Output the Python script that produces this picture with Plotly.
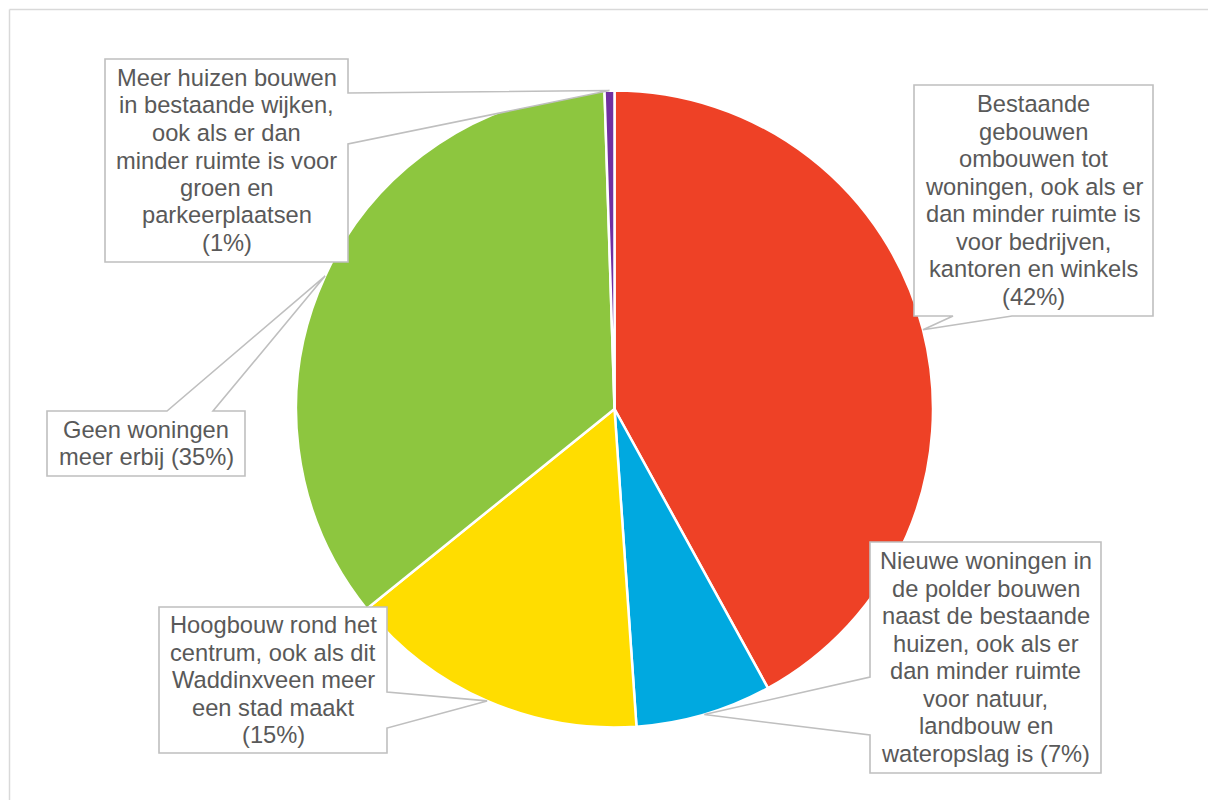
import math
import plotly.graph_objects as go

# ---------------- data ----------------
categories = [
    "Bestaande gebouwen ombouwen tot woningen, ook als er dan minder ruimte is voor bedrijven, kantoren en winkels",
    "Nieuwe woningen in de polder bouwen naast de bestaande huizen, ook als er dan minder ruimte voor natuur, landbouw en wateropslag is",
    "Hoogbouw rond het centrum, ook als dit Waddinxveen meer een stad maakt",
    "Geen woningen meer erbij",
    "Meer huizen bouwen in bestaande wijken, ook als er dan minder ruimte is voor groen en parkeerplaatsen",
]
values = [42.0, 6.9, 15.3, 35.3, 0.5]
label_lines = [
    ["Bestaande", "gebouwen", "ombouwen tot", "woningen, ook als er", "dan minder ruimte is",
     "voor bedrijven,", "kantoren en winkels", "(42%)"],
    ["Nieuwe woningen in", "de polder bouwen", "naast de bestaande", "huizen, ook als er",
     "dan minder ruimte", "voor natuur,", "landbouw en", "wateropslag is (7%)"],
    ["Hoogbouw rond het", "centrum, ook als dit", "Waddinxveen meer", "een stad maakt", "(15%)"],
    ["Geen woningen", "meer erbij (35%)"],
    ["Meer huizen bouwen", "in bestaande wijken,", "ook als er dan", "minder ruimte is voor",
     "groen en", "parkeerplaatsen", "(1%)"],
]
colors = ["#EE4126", "#00A9E0", "#FFDD00", "#8DC63F", "#7030A0"]

# ---------------- layout constants (pixels, page coordinates) ----------------
W, H = 1208, 800
CX, CY, R = 614.5, 409.0, 318.5
TEXT_COLOR = "#595959"
BOX_COLOR = "#BFBFBF"
FONT = "Liberation Sans, Arial, sans-serif"
FONT_SIZE = 23.7
LINE_H = 27.5

# box (x0, y0, x1, y1), wedge side, wedge base (a, b)
callouts = [
    ((914, 85, 1153, 316), "bottom", (953, 1012)),
    ((870, 542, 1101, 773), "left", (677, 735)),
    ((159, 607, 387, 753), "right", (692, 728)),
    ((47, 411, 245, 476), "top", (167, 213)),
    ((105, 59, 348, 262), "right", (93, 144)),
]


def px(x):
    return x / W


def py(y):
    return 1 - y / H


def path_from(points):
    return "M " + " L ".join(f"{px(x):.5f},{py(y):.5f}" for x, y in points) + " Z"


fig = go.Figure()
fig.add_trace(go.Pie(
    labels=categories,
    values=values,
    sort=False,
    direction="clockwise",
    rotation=0,
    marker=dict(colors=colors, line=dict(color="white", width=2.5)),
    textinfo="none",
    hoverinfo="label+percent",
    showlegend=False,
    domain=dict(x=[px(CX - R), px(CX + R)], y=[py(CY + R), py(CY - R)]),
))

shapes = []
annotations = []

# chart area border (top & left visible)
shapes.append(dict(type="line", xref="paper", yref="paper", x0=px(9.5), y0=py(9.5), x1=1.02, y1=py(9.5),
                   line=dict(color="#D9D9D9", width=1.5)))
shapes.append(dict(type="line", xref="paper", yref="paper", x0=px(9.5), y0=py(9.5), x1=px(9.5), y1=-0.02,
                   line=dict(color="#D9D9D9", width=1.5)))

total = sum(values)
cum = 0.0
for i, v in enumerate(values):
    mid = (cum + v / 2) / total * 2 * math.pi
    cum += v
    tip = (CX + R * math.sin(mid), CY - R * math.cos(mid))
    (x0, y0, x1, y1), side, (a, b) = callouts[i]
    if side == "top":
        pts = [(x0, y0), (a, y0), tip, (b, y0), (x1, y0), (x1, y1), (x0, y1)]
    elif side == "right":
        pts = [(x0, y0), (x1, y0), (x1, a), tip, (x1, b), (x1, y1), (x0, y1)]
    elif side == "bottom":
        pts = [(x0, y0), (x1, y0), (x1, y1), (b, y1), tip, (a, y1), (x0, y1)]
    else:  # left
        pts = [(x0, y0), (x1, y0), (x1, y1), (x0, y1), (x0, b), tip, (x0, a)]
    shapes.append(dict(type="path", xref="paper", yref="paper", path=path_from(pts),
                       fillcolor="white", line=dict(color=BOX_COLOR, width=1.6), layer="above"))
    lines = label_lines[i]
    n = len(lines)
    ymid = (y0 + y1) / 2
    xmid = (x0 + x1) / 2
    for k, t in enumerate(lines):
        yy = ymid + (k - (n - 1) / 2) * LINE_H
        annotations.append(dict(text=t, xref="paper", yref="paper", x=px(xmid), y=py(yy),
                                xanchor="center", yanchor="middle", showarrow=False,
                                font=dict(family=FONT, size=FONT_SIZE, color=TEXT_COLOR)))

fig.update_layout(
    width=W, height=H,
    margin=dict(l=0, r=0, t=0, b=0),
    paper_bgcolor="white",
    plot_bgcolor="white",
    shapes=shapes,
    annotations=annotations,
    showlegend=False,
)

fig.write_html(
    "out.html",
    config={"displayModeBar": False},
    post_script="document.body.style.margin='0';document.body.style.overflow='hidden';",
)
